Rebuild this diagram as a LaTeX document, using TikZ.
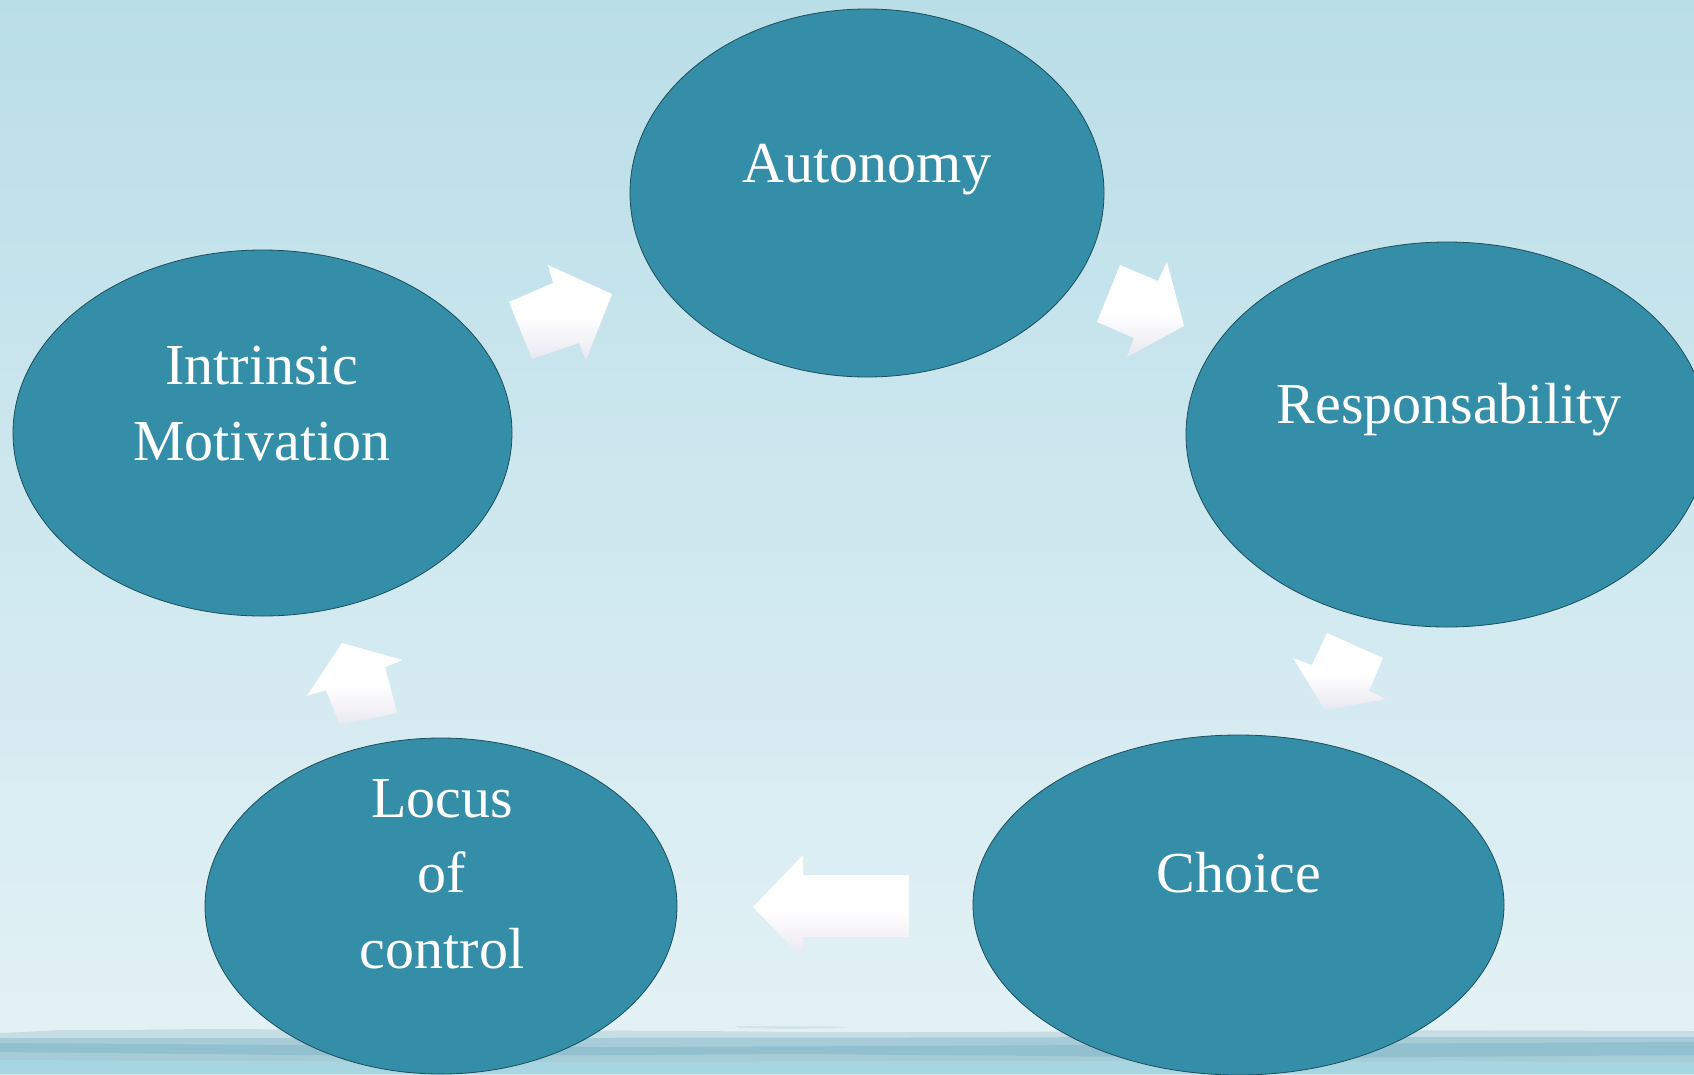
\documentclass[tikz,border=0pt]{standalone}
\usepackage{fontspec}
\setmainfont{Liberation Serif}
\usetikzlibrary{shapes.geometric}
\definecolor{bgtop}{RGB}{186,222,232}
\definecolor{bgbot}{RGB}{228,242,246}
\definecolor{tealfill}{RGB}{53,142,168}
\definecolor{tealline}{RGB}{28,78,92}
\definecolor{arrbot}{RGB}{214,214,229}
\definecolor{waterA}{RGB}{197,221,227}
\definecolor{waterB}{RGB}{166,204,215}
\definecolor{waterC}{RGB}{146,192,207}
\definecolor{waterD}{RGB}{168,213,226}
\pgfdeclareverticalshading{arrowshade}{100bp}{color(0bp)=(arrbot); color(8bp)=(arrbot); color(48bp)=(white); color(100bp)=(white)}
\begin{document}
\begin{tikzpicture}[x=1pt,y=-1pt,
  bubble/.style={ellipse, fill=tealfill, draw=tealline, line width=0.8pt, inner sep=0pt, outer sep=0pt},
  lbl/.style={text=white, font=\fontsize{58}{76}\selectfont, anchor=base, inner sep=0pt},
  blockarrow/.style={shading=arrowshade, draw=none}]
\useasboundingbox (0,0) rectangle (1694,1074);
\clip (0,0) rectangle (1694,1074);
% background
\shade[top color=bgtop, bottom color=bgbot] (0,0) rectangle (1694,1074);
% water strip
\fill[waterA] (0,1033) -- (25,1032) -- (60,1030) -- (130,1030) -- (200,1029) -- (700,1031) -- (800,1032) -- (1000,1032) -- (1300,1030) -- (1694,1031) -- (1694,1074) -- (0,1074) -- cycle;
\fill[waterA!80!white] (735,1026) -- (830,1026) -- (850,1028) -- (790,1029) -- (740,1028) -- cycle;
\fill[waterB] (0,1038) -- (600,1038) -- (1200,1037) -- (1694,1037) -- (1694,1074) -- (0,1074) -- cycle;
\fill[waterC] (0,1043) -- (300,1045) -- (600,1047) -- (900,1046) -- (1300,1044) -- (1694,1042) -- (1694,1055) -- (1300,1058) -- (800,1054) -- (400,1056) -- (0,1052) -- cycle;
\fill[waterD] (0,1060) -- (500,1062) -- (1000,1061) -- (1694,1062) -- (1694,1074) -- (0,1074) -- cycle;
% ellipses
\node[bubble, minimum width=474pt, minimum height=368pt] (aut) at (867,193) {};
\node[bubble, minimum width=499pt, minimum height=366pt] (im) at (262.5,433) {};
\node[bubble, minimum width=522pt, minimum height=385pt] (resp) at (1447,434.5) {};
\node[bubble, minimum width=531pt, minimum height=340pt] (cho) at (1238.5,905) {};
\node[bubble, minimum width=472pt, minimum height=336pt] (loc) at (441,906) {};
% block arrows
\shade[blockarrow] (509,302) -- (553,283) -- (548,265) -- (612,294) -- (586,360) -- (579,343) -- (532,359) -- cycle;
\shade[blockarrow] (1120,265) -- (1158,281) -- (1167,262) -- (1184,326) -- (1127,357) -- (1134,338) -- (1097,322) -- cycle;
\shade[blockarrow] (1327,633) -- (1383,658) -- (1369,691) -- (1386,699) -- (1325,710) -- (1293,658) -- (1312,665) -- cycle;
\shade[blockarrow] (753,907) -- (803,855) -- (803,875) -- (909,875) -- (909,937) -- (803,937) -- (803,958) -- cycle;
\shade[blockarrow] (342,643) -- (403,660) -- (385,667) -- (397,713) -- (340,725) -- (326,690) -- (307,696) -- cycle;
% labels
\node[lbl] (t-aut) at (867,182) {Autonomy};
\node[lbl] (t-im1) at (262,384) {Intrinsic};
\node[lbl] (t-im2) at (262,460) {Motivation};
\node[lbl] (t-resp) at (1449,423) {Responsability};
\node[lbl] (t-cho) at (1239,892) {Choice};
\node[lbl] (t-loc1) at (442,817) {Locus};
\node[lbl] (t-loc2) at (442,892) {of};
\node[lbl] (t-loc3) at (442,968) {control};
\end{tikzpicture}
\end{document}
